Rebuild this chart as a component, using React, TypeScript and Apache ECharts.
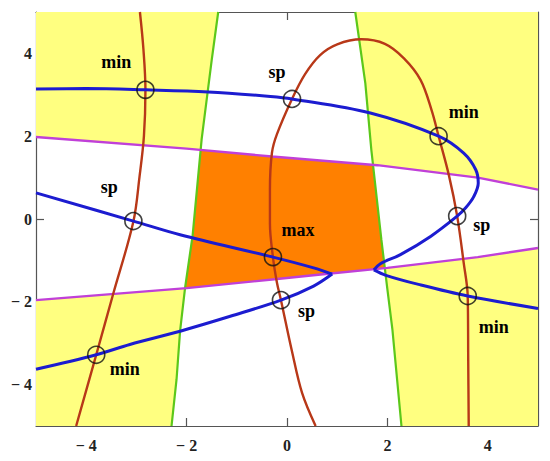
import React, { useEffect, useRef } from "react";
import * as echarts from "echarts";

// ---- data (x, y in axis units) ----
const tickValues = [-4, -2, 0, 2, 4];

const greenLeft = [[-1.37, 5], [-1.5, 3.84], [-1.7, 1.93], [-1.88, -0.4], [-2.03, -1.66], [-2.13, -2.71], [-2.2, -3.87], [-2.3, -5]];
const greenRight = [[1.36, 5], [1.56, 3.28], [1.68, 1.67], [1.88, -0.5], [2.0, -1.7], [2.1, -2.67], [2.28, -5]];
const magentaUpper = [[-5, 1.98], [-2, 1.7], [-0.3, 1.51], [1.8, 1.3], [3.8, 1.0], [5, 0.71]];
const magentaLower = [[-5, -1.96], [-2, -1.67], [-0.2, -1.45], [0.67, -1.34], [2, -1.18], [3.8, -0.92], [5, -0.7]];

const redLeft = [[-2.93, 5], [-2.86, 4.1], [-2.82, 3.12], [-2.85, 2.0], [-2.94, 1.0], [-3.06, -0.06], [-3.46, -1.8], [-3.8, -3.28], [-4.2, -5]];
const redMiddle = [[0.57, -5], [0.3, -4.2], [0.1, -3.2], [-0.12, -1.96], [-0.2, -1.54], [-0.28, -0.92], [-0.34, -0.1], [-0.34, 0.7], [-0.3, 1.6], [-0.2, 2.05], [0.1, 2.9], [0.36, 3.5], [0.66, 3.96], [1.0, 4.22], [1.48, 4.34], [1.95, 4.23], [2.33, 3.88], [2.66, 3.36], [2.88, 2.63], [3.02, 2.0], [3.23, 1.03], [3.39, 0.07], [3.52, -1.06], [3.6, -1.86], [3.61, -3.4], [3.62, -5]];

const blueUpperA = [[-5, 3.14], [-4, 3.15], [-2.81, 3.12], [-1.57, 3.07], [-0.33, 2.96], [0.1, 2.9], [1.66, 2.56], [3.02, 2.0], [3.52, 1.59], [3.76, 1.19], [3.81, 0.87], [3.72, 0.54], [3.56, 0.27], [3.39, 0.07], [2.86, -0.42], [2.26, -0.86], [1.86, -1.08], [1.73, -1.23]];
const blueUpperB = [[1.73, -1.23], [1.97, -1.36], [2.62, -1.58], [3.6, -1.86], [5, -2.16]];
const blueLowerA = [[-5, 0.63], [-3.06, -0.05], [-2.13, -0.38], [-0.28, -0.92], [0.53, -1.18], [0.9, -1.33]];
const blueLowerB = [[0.9, -1.33], [0.53, -1.62], [-0.12, -1.96], [-1.13, -2.35], [-2.13, -2.71], [-3.13, -3.03], [-3.8, -3.28], [-5, -3.63]];

const criticalPoints = [[-2.82, 3.12], [0.1, 2.9], [3.02, 2.0], [-3.06, -0.05], [-0.28, -0.92], [3.39, 0.07], [-0.12, -1.96], [3.6, -1.86], [-3.8, -3.28]];

const labelTexts = ["min", "sp", "min", "sp", "max", "sp", "sp", "min", "min"];
const labelPositions = [[-3.4, 3.8], [-0.2, 3.55], [3.52, 2.58], [-3.54, 0.78], [0.22, -0.26], [3.88, -0.14], [0.39, -2.22], [4.12, -2.62], [-3.23, -3.63]];

// ---- helpers ----
function at(points: number[][], k: number, v: number): number {
  const o = 1 - k;
  for (let i = 0; i < points.length - 1; i++) {
    const a = points[i], b = points[i + 1];
    const lo = Math.min(a[k], b[k]), hi = Math.max(a[k], b[k]);
    if (v >= lo - 1e-9 && v <= hi + 1e-9) {
      const t = b[k] === a[k] ? 0 : (v - a[k]) / (b[k] - a[k]);
      return a[o] + t * (b[o] - a[o]);
    }
  }
  const first = points[0], last = points[points.length - 1];
  return Math.abs(v - first[k]) < Math.abs(v - last[k]) ? first[o] : last[o];
}
const gx = (g: number[][], y: number) => at(g, 1, y);
const my = (m: number[][], x: number) => at(m, 0, x);
function cross(g: number[][], m: number[][]) {
  let y = my(m, 0);
  let x = 0;
  for (let i = 0; i < 40; i++) {
    x = gx(g, y);
    y = my(m, x);
  }
  return [x, y];
}
function sampleG(g: number[][], y0: number, y1: number, n = 40) {
  const out: number[][] = [];
  for (let i = 0; i <= n; i++) {
    const y = y0 + ((y1 - y0) * i) / n;
    out.push([gx(g, y), y]);
  }
  return out;
}
function sampleM(m: number[][], x0: number, x1: number, n = 40) {
  const out: number[][] = [];
  for (let i = 0; i <= n; i++) {
    const x = x0 + ((x1 - x0) * i) / n;
    out.push([x, my(m, x)]);
  }
  return out;
}

const I1 = cross(greenLeft, magentaUpper);
const I2 = cross(greenRight, magentaUpper);
const I3 = cross(greenLeft, magentaLower);
const I4 = cross(greenRight, magentaLower);

const regionPolys: number[][][] = [
  [[-5, 5], ...sampleG(greenLeft, 5, I1[1]), ...sampleM(magentaUpper, I1[0], -5)],
  [[5, 5], [5, my(magentaUpper, 5)], ...sampleM(magentaUpper, 5, I2[0]), ...sampleG(greenRight, I2[1], 5)],
  [...sampleM(magentaLower, -5, I3[0]), ...sampleG(greenLeft, I3[1], -5), [-5, -5]],
  [...sampleM(magentaLower, I4[0], 5), [5, -5], ...sampleG(greenRight, -5, I4[1])],
  [...sampleM(magentaUpper, I1[0], I2[0]), ...sampleG(greenRight, I2[1], I4[1]), ...sampleM(magentaLower, I4[0], I3[0]), ...sampleG(greenLeft, I3[1], I1[1])],
];
const regionColors = ["#ffff80", "#ffff80", "#ffff80", "#ffff80", "#ff8000"];

const BLUE = "#1c1cd0";
const RED = "#b83818";
const GREEN = "#5cc81a";
const MAGENTA = "#c040d8";

function lineSeries(data: number[][], color: string, width: number, smooth: number | boolean) {
  return {
    type: "line",
    data,
    showSymbol: false,
    symbol: "none",
    smooth,
    clip: true,
    silent: true,
    lineStyle: { color, width },
    z: 3,
  };
}

const fmt = (v: number) => (v < 0 ? "\u2212 " + Math.abs(v) : String(v));

export default function App() {
  const ref = useRef<HTMLDivElement>(null);
  useEffect(() => {
    if (!ref.current) return;
    const chart = echarts.init(ref.current, null, { renderer: "svg" });
    const axisCommon = {
      type: "value",
      min: -5,
      max: 5,
      splitLine: { show: false },
      axisLine: { show: true, onZero: false, lineStyle: { color: "#555", width: 1.2 } },
      axisTick: { show: true, inside: true, length: 8, customValues: tickValues, lineStyle: { color: "#555", width: 1.2 } },
    };
    const labelStyle = {
      customValues: tickValues,
      formatter: fmt,
      fontFamily: '"Liberation Serif", serif',
      fontSize: 16,
      fontWeight: "bold",
      color: "#222",
    };
    chart.setOption({
      animation: false,
      backgroundColor: "#fff",
      grid: { left: 36, right: 12, top: 12, bottom: 35 },
      xAxis: [
        { ...axisCommon, position: "bottom", axisLabel: { ...labelStyle, margin: 11 } },
        { ...axisCommon, position: "top", axisLabel: { show: false } },
      ],
      yAxis: [
        { ...axisCommon, position: "left", axisLabel: { ...labelStyle, margin: 4 } },
        { ...axisCommon, position: "right", axisLabel: { show: false } },
      ],
      series: [
        {
          type: "custom",
          data: regionPolys.map((_, i) => [i - 2, 0]),
          silent: true,
          clip: true,
          z: 1,
          renderItem: (params: any, api: any) => {
            const poly = regionPolys[params.dataIndex];
            return {
              type: "polygon",
              shape: { points: poly.map((p) => api.coord(p)) },
              style: { fill: regionColors[params.dataIndex], stroke: null },
            };
          },
        },
        lineSeries(greenLeft, GREEN, 2.2, false),
        lineSeries(greenRight, GREEN, 2.2, false),
        lineSeries(magentaUpper, MAGENTA, 2.4, false),
        lineSeries(magentaLower, MAGENTA, 2.4, false),
        lineSeries(redLeft, RED, 2.4, 0.35),
        lineSeries(redMiddle, RED, 2.4, 0.35),
        lineSeries(blueUpperA, BLUE, 3, 0.35),
        lineSeries(blueUpperB, BLUE, 3, 0.35),
        lineSeries(blueLowerA, BLUE, 3, 0.35),
        lineSeries(blueLowerB, BLUE, 3, 0.35),
        {
          type: "scatter",
          data: criticalPoints,
          symbol: "circle",
          symbolSize: 17,
          silent: true,
          z: 5,
          itemStyle: { color: "rgba(0,0,0,0)", borderColor: "#111", borderWidth: 1.6 },
        },
        {
          type: "custom",
          data: labelPositions,
          silent: true,
          z: 6,
          renderItem: (params: any, api: any) => {
            const p = api.coord([api.value(0), api.value(1)]);
            return {
              type: "text",
              x: p[0],
              y: p[1],
              style: {
                text: labelTexts[params.dataIndex],
                font: 'bold 18px "Liberation Serif", serif',
                fill: "#000",
                align: "center",
                verticalAlign: "middle",
              },
            };
          },
        },
      ],
    });
    return () => chart.dispose();
  }, []);
  return <div ref={ref} style={{ position: "absolute", left: 0, top: 0, width: 550, height: 461 }} />;
}
